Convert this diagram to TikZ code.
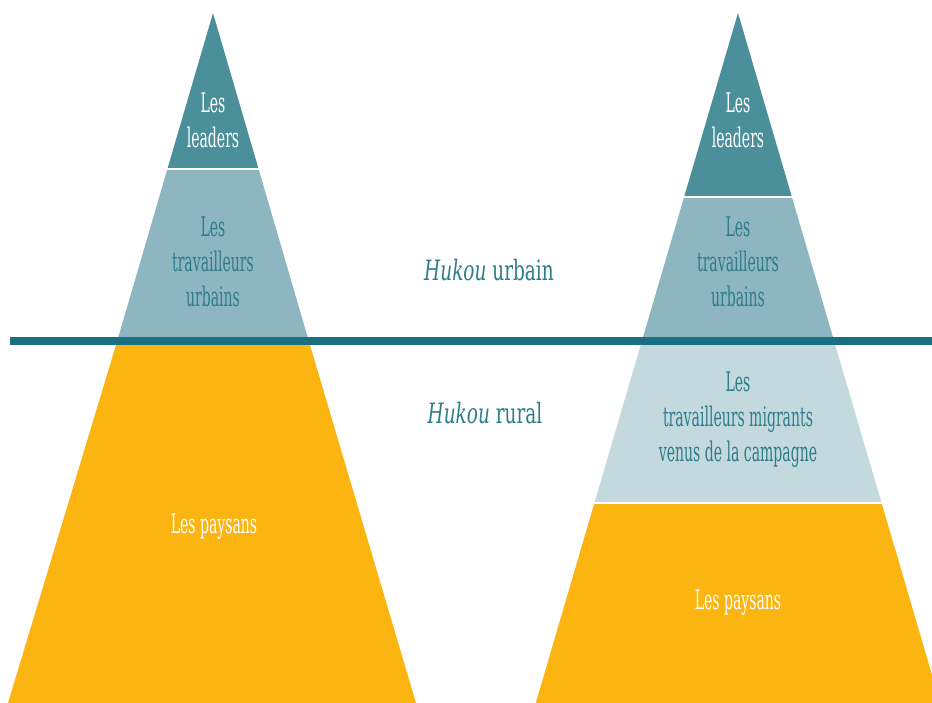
\documentclass[tikz,border=0pt]{standalone}
\usepackage{fontspec}
\setmainfont{DejaVu Serif}[FakeStretch=0.52]
\newfontfamily\hukfont{DejaVu Serif}[FakeStretch=0.66]
\definecolor{tdark}{HTML}{4B8F9B}
\definecolor{tmid}{HTML}{8EB6C1}
\definecolor{tlight}{HTML}{C4D9DE}
\definecolor{ygold}{HTML}{FBB410}
\definecolor{lineteal}{HTML}{1A6F80}
\definecolor{txtteal}{HTML}{2E7C8B}
\tikzset{
  lbl/.style={align=center, font=\fontsize{27}{35}\selectfont, inner sep=0pt},
  wlbl/.style={lbl, text=white},
  tlbl/.style={lbl, text=txtteal},
  hlbl/.style={tlbl, font=\hukfont\fontsize{28}{35}\selectfont},
  sep/.style={draw=white, line width=2pt},
}
\begin{document}
\begin{tikzpicture}[x=1pt,y=-1pt]
\useasboundingbox (0,0) rectangle (932,703);
\begin{scope}
\clip (0,0) rectangle (932,703);
% left pyramid
\fill[tdark] (213,13) -- (258.6,169) -- (167.4,169) -- cycle;
\fill[tmid] (167.4,169) -- (258.6,169) -- (308.8,341) -- (117.2,341) -- cycle;
\fill[ygold] (117.2,341) -- (308.8,341) -- (416,703) -- (8,703) -- cycle;
\draw[sep] (167.4,169) -- (258.6,169);
% right pyramid
\fill[tdark] (738,13) -- (791.9,197) -- (684.1,197) -- cycle;
\fill[tmid] (684.1,197) -- (791.9,197) -- (834.1,341) -- (641.9,341) -- cycle;
\fill[tlight] (641.9,341) -- (834.1,341) -- (881.6,503) -- (594.4,503) -- cycle;
\fill[ygold] (594.4,503) -- (881.6,503) -- (940.2,703) -- (535.8,703) -- cycle;
\draw[sep] (684.1,197) -- (791.9,197);
\draw[sep] (594.4,503) -- (881.6,503);
\end{scope}
% divider
\draw[lineteal, line width=8pt] (10,341) -- (932,341);
% labels
\node[wlbl] (lleaders) at (213,120) {Les\\leaders};
\node[tlbl] (lurb) at (213,262) {Les\\travailleurs\\urbains};
\node[wlbl] (lpays) at (214,527) {Les paysans};
\node[wlbl] (rleaders) at (738,120) {Les\\leaders};
\node[tlbl] (rurb) at (738,262) {Les\\travailleurs\\urbains};
\node[tlbl] (rmig) at (738,420) {Les\\travailleurs migrants\\venus de la campagne};
\node[wlbl] (rpays) at (738,603) {Les paysans};
\node[hlbl] (hurb) at (489,270) {\textit{Hukou} urbain};
\node[hlbl] (hrur) at (485,413) {\textit{Hukou} rural};
\end{tikzpicture}
\end{document}
